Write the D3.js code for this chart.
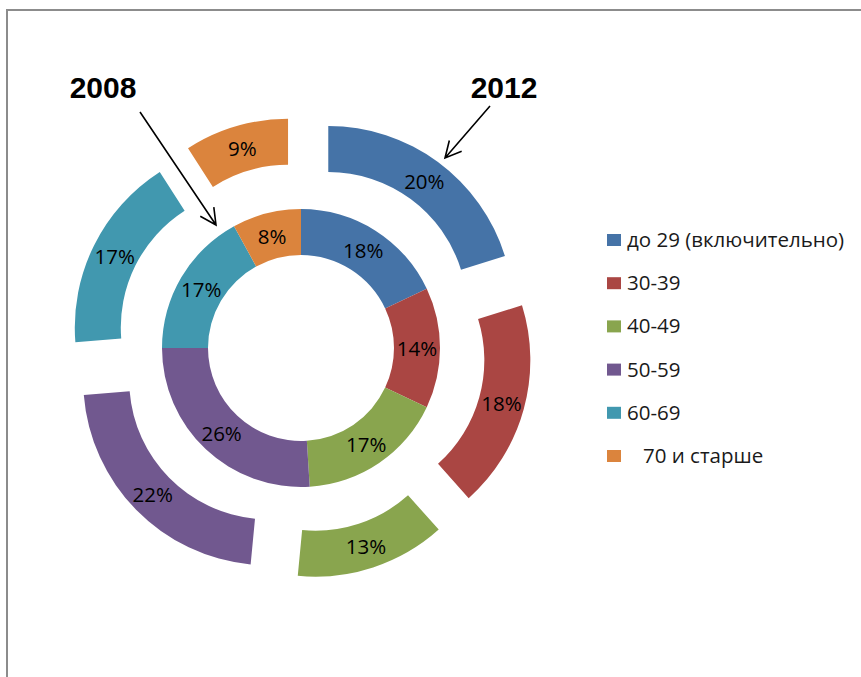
<!DOCTYPE html>
<html>
<head>
<meta charset="utf-8">
<script src="https://cdn.jsdelivr.net/npm/d3@7"></script>
<style>
  html, body { margin: 0; padding: 0; background: #fff; }
  svg { display: block; }
</style>
</head>
<body>
<svg id="chart" width="861" height="677"></svg>
<script>
// Age groups and their shares, 2008 (inner ring) and 2012 (outer ring)
const categories = ["до 29 (включительно)", "30-39", "40-49", "50-59", "60-69", "70 и старше"];
const legendLabels = ["до 29 (включительно)", "30-39", "40-49", "50-59", "60-69", "   70 и старше"];
const values2008 = [18, 14, 17, 26, 17, 8];
const values2012 = [20, 18, 13, 22, 17, 9];
const palette = ["#4573A7", "#AA4643", "#89A54E", "#71588F", "#4198AF", "#DB843D"];

const svg = d3.select("#chart");
const W = 861, H = 677;

// Frame
svg.append("path")
  .attr("d", `M7,${H} V10 H${W}`)
  .attr("fill", "none")
  .attr("stroke", "#8c8c8c")
  .attr("stroke-width", 2);

const cx = 301, cy = 348;
const hole = 93, ringW = 46, explode = 46;

const color = d3.scaleOrdinal().domain(categories).range(palette);
const pie = d3.pie().sort(null).value(d => d.v);

const inner = d3.arc().innerRadius(hole).outerRadius(hole + ringW);
const outer = d3.arc().innerRadius(hole + ringW).outerRadius(hole + 2 * ringW);

const g = svg.append("g").attr("transform", `translate(${cx},${cy})`);

const rows08 = categories.map((c, i) => ({ c, v: values2008[i] }));
const rows12 = categories.map((c, i) => ({ c, v: values2012[i] }));

const labelFont = "'Open Sans', 'Liberation Sans', sans-serif";
const labelSize = 20.5;

// Inner ring — 2008
const gIn = g.append("g");
gIn.selectAll("path").data(pie(rows08)).join("path")
  .attr("d", inner)
  .attr("fill", d => color(d.data.c));
gIn.selectAll("text").data(pie(rows08)).join("text")
  .attr("transform", d => `translate(${inner.centroid(d)})`)
  .attr("text-anchor", "middle")
  .attr("dominant-baseline", "central")
  .attr("font-family", labelFont)
  .attr("font-size", labelSize)
  .attr("fill", "#000")
  .text(d => d.data.v + "%");

// Outer ring — 2012, every slice pushed out along its bisector
const shift = d => {
  const a = (d.startAngle + d.endAngle) / 2;
  return [explode * Math.sin(a), -explode * Math.cos(a)];
};
const gOut = g.append("g");
gOut.selectAll("path").data(pie(rows12)).join("path")
  .attr("transform", d => `translate(${shift(d)})`)
  .attr("d", outer)
  .attr("fill", d => color(d.data.c));
gOut.selectAll("text").data(pie(rows12)).join("text")
  .attr("transform", d => {
    const [x, y] = outer.centroid(d), [sx, sy] = shift(d);
    return `translate(${x + sx},${y + sy})`;
  })
  .attr("text-anchor", "middle")
  .attr("dominant-baseline", "central")
  .attr("font-family", labelFont)
  .attr("font-size", labelSize)
  .attr("fill", "#000")
  .text(d => d.data.v + "%");

// Year callouts with arrows
const callouts = [
  { text: "2008", tx: 103, ty: 98, from: [140, 112], to: [216, 225] },
  { text: "2012", tx: 504, ty: 98, from: [490, 106], to: [445, 158] }
];
const ann = svg.append("g");
callouts.forEach(c => {
  ann.append("text")
    .attr("x", c.tx).attr("y", c.ty)
    .attr("text-anchor", "middle")
    .attr("font-family", "'Liberation Sans', Arial, sans-serif")
    .attr("font-weight", "bold")
    .attr("font-size", 30)
    .attr("fill", "#000")
    .text(c.text);
  const [x0, y0] = c.from, [x1, y1] = c.to;
  const ang = Math.atan2(y0 - y1, x0 - x1);
  const len = 18, spread = 0.47;
  const p1 = [x1 + len * Math.cos(ang + spread), y1 + len * Math.sin(ang + spread)];
  const p2 = [x1 + len * Math.cos(ang - spread), y1 + len * Math.sin(ang - spread)];
  ann.append("path")
    .attr("d", `M${x0},${y0}L${x1},${y1}M${p1}L${x1},${y1}L${p2}`)
    .attr("fill", "none")
    .attr("stroke", "#000")
    .attr("stroke-width", 1.6)
    .attr("stroke-linejoin", "miter");
});

// Legend
const legendY = d3.scalePoint().domain(categories).range([247, 463]);
const leg = svg.append("g");
const item = leg.selectAll("g").data(categories).join("g")
  .attr("transform", d => `translate(607,${legendY(d)})`);
item.append("rect")
  .attr("x", 0).attr("y", -13)
  .attr("width", 14).attr("height", 12)
  .attr("fill", d => color(d));
item.append("text")
  .attr("x", 20).attr("y", 0)
  .attr("font-family", labelFont)
  .attr("font-size", 20.5)
  .attr("fill", "#1a1a1a")
  .style("white-space", "pre")
  .text((d, i) => legendLabels[i]);
</script>
</body>
</html>
